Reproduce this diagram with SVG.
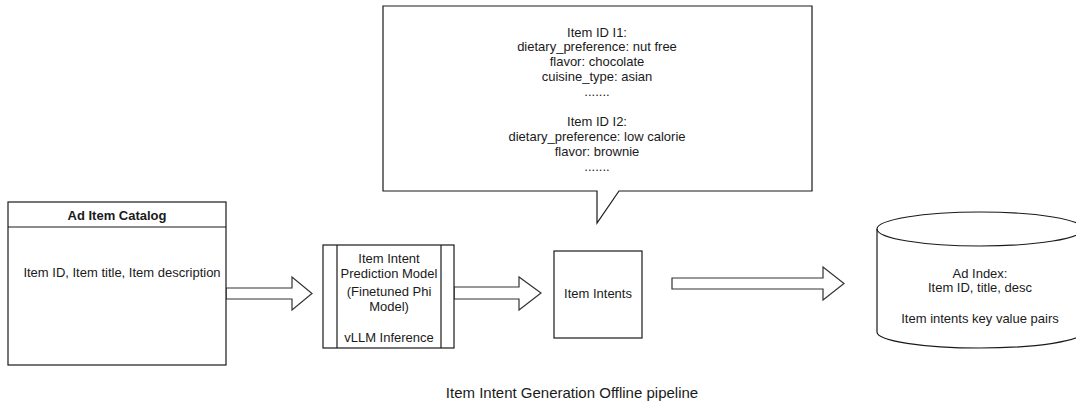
<svg xmlns="http://www.w3.org/2000/svg" width="1076" height="403" viewBox="0 0 1076 403">
<style>
text{font-family:"Liberation Sans",Arial,sans-serif;font-size:13px;fill:#1a1a1a;text-anchor:middle}
.b{font-weight:bold}
.cap{font-size:15px}
.shape{fill:#fff;stroke:#1a1a1a;stroke-width:1.2}
.arrow{fill:#fff;stroke:#333;stroke-width:1.2;stroke-linejoin:miter}
</style>
<rect width="1076" height="403" fill="#fff"/>
<g id="connectors">
<path class="arrow" d="M226,288 L292,288 L292,277 L312,293.5 L292,310 L292,299 L226,299 Z"/>
<path class="arrow" d="M454,287 L519,287 L519,277 L541,293 L519,310 L519,299 L454,299 Z"/>
<path class="arrow" d="M672,278 L823,278 L823,267 L844,283.5 L823,300 L823,289 L672,289 Z"/>
</g>
<g id="catalog">
<rect class="shape" x="8" y="202" width="218" height="163"/>
<line x1="8" y1="227" x2="226" y2="227" stroke="#1a1a1a" stroke-width="1.2"/>
<text class="b" x="117" y="219.5">Ad Item Catalog</text>
<text x="122" y="276.5">Item ID, Item title, Item description</text>
</g>
<g id="model">
<rect class="shape" x="323" y="245" width="131" height="103"/>
<line x1="337" y1="245" x2="337" y2="348" stroke="#1a1a1a" stroke-width="1.2"/>
<line x1="441" y1="245" x2="441" y2="348" stroke="#1a1a1a" stroke-width="1.2"/>
<text x="389" y="262.5">Item Intent</text>
<text x="389" y="277.5">Prediction Model</text>
<text x="389" y="295.5">(Finetuned Phi</text>
<text x="389" y="310.5">Model)</text>
<text x="389" y="341.5">vLLM Inference</text>
</g>
<g id="intents">
<rect class="shape" x="554" y="251" width="88" height="87"/>
<text x="598" y="297.5">Item Intents</text>
</g>
<g id="callout">
<path class="shape" d="M383,6 H812 V191 H619 L597,223 V191 H383 Z"/>
<text x="597" y="36.5">Item ID I1:</text>
<text x="597" y="50.5">dietary_preference: nut free</text>
<text x="597" y="65.5">flavor: chocolate</text>
<text x="597" y="80.5">cuisine_type: asian</text>
<text x="597" y="95.5">.......</text>
<text x="597" y="125.5">Item ID I2:</text>
<text x="597" y="140.5">dietary_preference: low calorie</text>
<text x="597" y="155.5">flavor: brownie</text>
<text x="597" y="170.5">.......</text>
</g>
<g id="adindex">
<path class="shape" d="M877,229 A103,17 0 0 1 1083,229 V332 A103,16 0 0 1 877,332 Z"/>
<path d="M877,229 A103,17 0 0 0 1083,229" fill="none" stroke="#1a1a1a" stroke-width="1.2"/>
<text x="980" y="277.5">Ad Index:</text>
<text x="980" y="291.5">Item ID, title, desc</text>
<text x="980" y="322.5">Item intents key value pairs</text>
</g>
<g id="caption">
<text class="cap" x="572" y="398">Item Intent Generation Offline pipeline</text>
</g>
</svg>
